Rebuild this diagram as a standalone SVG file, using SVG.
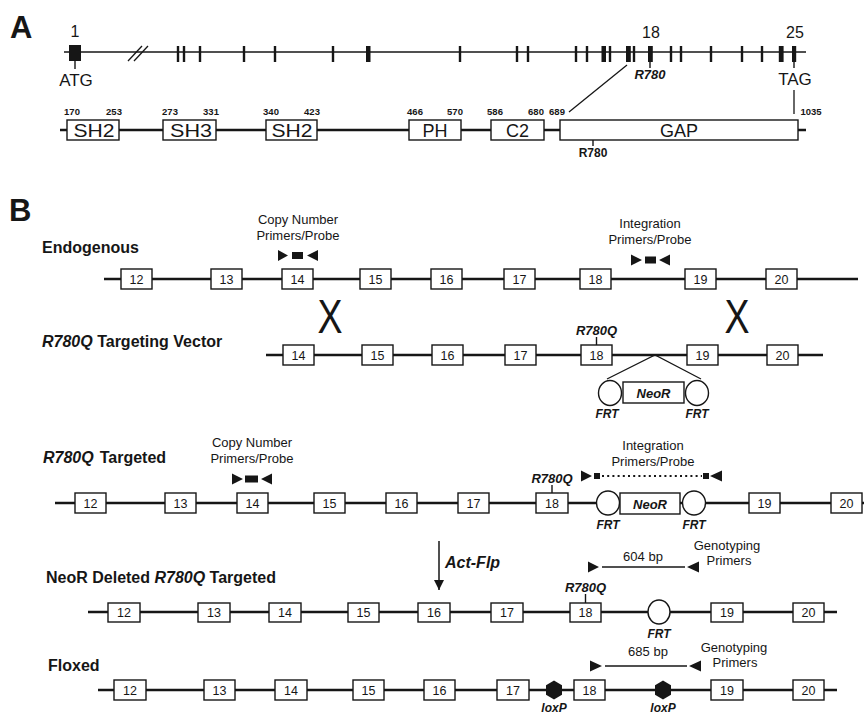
<svg xmlns="http://www.w3.org/2000/svg" xmlns:xlink="http://www.w3.org/1999/xlink" width="864" height="714" viewBox="0 0 864 714">
<style>
text{font-family:"Liberation Sans",Arial,sans-serif;fill:#161616}
.pl{font-size:31px;font-weight:bold}
.ex{fill:#fff;stroke:#161616;stroke-width:1.4}
.en{font-size:12.5px;text-anchor:middle}
.ln{stroke:#161616;stroke-width:2.6;fill:none}
.thin{stroke:#161616;stroke-width:1.3;fill:none}
.tk{stroke:#161616;stroke-width:1.4}
.row{font-size:16px;font-weight:bold}
.it{font-style:italic;font-weight:bold}
.sm{font-size:13px;text-anchor:middle}
.lab{font-size:13px;font-weight:bold;font-style:italic;text-anchor:middle}
.frt{font-size:12px;font-weight:bold;font-style:italic;text-anchor:middle}
.num{font-size:9.5px;font-weight:bold;text-anchor:middle}
.dom{font-size:18px;text-anchor:middle}
.bar{fill:#161616}
.circ{fill:#fff;stroke:#161616;stroke-width:1.4}
.fill{fill:#161616}
</style>
<defs>
<polygon id="hex" points="0,-9.5 8,-4.75 8,4.75 0,9.5 -8,4.75 -8,-4.75" fill="#161616"/>
<marker id="ah" viewBox="0 0 10 10" refX="10" refY="5" markerWidth="10" markerHeight="10" markerUnits="userSpaceOnUse" orient="auto"><path d="M0,0 L10,5 L0,10 z" fill="#161616"/></marker>
</defs>

<!-- Panel A -->
<text id="labelA" class="pl" x="10" y="38">A</text>
<g id="gene">
<line class="thin" x1="64" y1="52" x2="806" y2="52"/>
<line class="thin" x1="128" y1="61" x2="142" y2="46"/>
<line class="thin" x1="134" y1="61" x2="148" y2="46"/>
<rect class="bar" x="69" y="45" width="12" height="16"/>
<g class="bar">
<rect x="176.8" y="46" width="2.4" height="16"/>
<rect x="182.8" y="46" width="2.4" height="16"/>
<rect x="198.8" y="46" width="2.4" height="16"/>
<rect x="242.8" y="46" width="2.4" height="16"/>
<rect x="273.8" y="46" width="2.4" height="16"/>
<rect x="331.8" y="46" width="2.4" height="16"/>
<rect x="366" y="46" width="4.5" height="16"/>
<rect x="458.8" y="46" width="2.4" height="16"/>
<rect x="515.8" y="46" width="2.4" height="16"/>
<rect x="526.8" y="46" width="2.4" height="16"/>
<rect x="574.8" y="46" width="2.4" height="16"/>
<rect x="585.8" y="46" width="2.4" height="16"/>
<rect x="601.5" y="46" width="4.5" height="16"/>
<rect x="608.8" y="46" width="2.4" height="16"/>
<rect x="626" y="46" width="4.8" height="16"/>
<rect x="632.8" y="46" width="2.4" height="16"/>
<rect x="648" y="46" width="4.8" height="16"/>
<rect x="669.8" y="46" width="2.4" height="16"/>
<rect x="679.8" y="46" width="2.4" height="16"/>
<rect x="709.8" y="46" width="2.4" height="16"/>
<rect x="740.8" y="46" width="2.4" height="16"/>
<rect x="760.8" y="46" width="2.4" height="16"/>
<rect x="778.8" y="46" width="4.8" height="16"/>
<rect x="792" y="46" width="4.2" height="16"/>
</g>
<line class="tk" x1="75" y1="61" x2="75" y2="69"/>
<line class="tk" x1="650" y1="62" x2="650" y2="68"/>
<line class="tk" x1="794" y1="62" x2="794" y2="68"/>
<text x="75" y="37" font-size="16" text-anchor="middle">1</text>
<text x="651" y="38" font-size="16" text-anchor="middle">18</text>
<text x="795" y="38" font-size="16" text-anchor="middle">25</text>
<text x="76" y="86" font-size="17" text-anchor="middle">ATG</text>
<text x="795" y="85" font-size="17" text-anchor="middle">TAG</text>
<text class="lab" x="650" y="79">R780</text>
</g>
<g id="connectorsA">
<line class="thin" x1="627" y1="65" x2="569" y2="112"/>
<line class="thin" x1="794" y1="90" x2="794" y2="114"/>
</g>
<g id="protein">
<line class="ln" x1="60" y1="130" x2="806" y2="130"/>
<g id="dom-SH2a"><rect class="ex" x="67" y="120" width="52" height="20"/><text class="dom" x="94" y="136.5" textLength="41" lengthAdjust="spacingAndGlyphs">SH2</text></g>
<g id="dom-SH3"><rect class="ex" x="163" y="120" width="53" height="20"/><text class="dom" x="191" y="136.5" textLength="42" lengthAdjust="spacingAndGlyphs">SH3</text></g>
<g id="dom-SH2b"><rect class="ex" x="266" y="120" width="51" height="20"/><text class="dom" x="292" y="136.5" textLength="41" lengthAdjust="spacingAndGlyphs">SH2</text></g>
<g id="dom-PH"><rect class="ex" x="409" y="120" width="52" height="20"/><text class="dom" x="435" y="136.5">PH</text></g>
<g id="dom-C2"><rect class="ex" x="491" y="120" width="53" height="20"/><text class="dom" x="517.5" y="136.5">C2</text></g>
<g id="dom-GAP"><rect class="ex" x="560" y="120" width="238" height="20"/><text class="dom" x="679" y="136.5">GAP</text></g>
<text class="num" x="72" y="115">170</text>
<text class="num" x="114" y="115">253</text>
<text class="num" x="170" y="115">273</text>
<text class="num" x="211" y="115">331</text>
<text class="num" x="271" y="115">340</text>
<text class="num" x="312" y="115">423</text>
<text class="num" x="415" y="115">466</text>
<text class="num" x="455" y="115">570</text>
<text class="num" x="495" y="115">586</text>
<text class="num" x="536" y="115">680</text>
<text class="num" x="557" y="115">689</text>
<text class="num" x="811" y="115">1035</text>
<line class="tk" x1="593" y1="140" x2="593" y2="146"/>
<text x="593" y="157" font-size="12" font-weight="bold" text-anchor="middle">R780</text>
</g>

<!-- Panel B -->
<text id="labelB" class="pl" x="9" y="221">B</text>

<!-- Row 1: Endogenous -->
<g id="row-endogenous">
<text class="row" x="42" y="253">Endogenous</text>
<line class="ln" x1="104" y1="279" x2="858" y2="279"/>
<g id="e1-12"><rect class="ex" x="121" y="269" width="31" height="20"/><text class="en" x="136.5" y="283.5">12</text></g>
<g id="e1-13"><rect class="ex" x="211" y="269" width="31" height="20"/><text class="en" x="226.5" y="283.5">13</text></g>
<g id="e1-14"><rect class="ex" x="282" y="269" width="31" height="20"/><text class="en" x="297.5" y="283.5">14</text></g>
<g id="e1-15"><rect class="ex" x="360" y="269" width="31" height="20"/><text class="en" x="375.5" y="283.5">15</text></g>
<g id="e1-16"><rect class="ex" x="431" y="269" width="31" height="20"/><text class="en" x="446.5" y="283.5">16</text></g>
<g id="e1-17"><rect class="ex" x="504" y="269" width="31" height="20"/><text class="en" x="519.5" y="283.5">17</text></g>
<g id="e1-18"><rect class="ex" x="580" y="269" width="31" height="20"/><text class="en" x="595.5" y="283.5">18</text></g>
<g id="e1-19"><rect class="ex" x="685" y="269" width="31" height="20"/><text class="en" x="700.5" y="283.5">19</text></g>
<g id="e1-20"><rect class="ex" x="766" y="269" width="31" height="20"/><text class="en" x="781.5" y="283.5">20</text></g>
<g id="cn-primers1">
<text class="sm" x="298" y="224">Copy Number</text>
<text class="sm" x="298" y="240">Primers/Probe</text>
<path class="fill" d="M278,250 L288,255.5 L278,261 z M292,252 h11 v7 h-11 z M318,250 L307,255.5 L318,261 z"/>
</g>
<g id="int-primers1">
<text class="sm" x="650" y="228">Integration</text>
<text class="sm" x="650" y="244">Primers/Probe</text>
<path class="fill" d="M631,254.5 L642,260 L631,265.5 z M645,256.5 h11 v7 h-11 z M670,254.5 L659,260 L670,265.5 z"/>
</g>
</g>

<g id="crossovers">
<text x="330" y="333" font-size="48" text-anchor="middle" textLength="25" lengthAdjust="spacingAndGlyphs">X</text>
<text x="737" y="333" font-size="48" text-anchor="middle" textLength="25" lengthAdjust="spacingAndGlyphs">X</text>
</g>

<!-- Row 2: Targeting vector -->
<g id="row-vector">
<text class="row" x="42" y="347"><tspan font-style="italic">R780Q</tspan> Targeting Vector</text>
<line class="ln" x1="266" y1="355" x2="823" y2="355"/>
<g id="v-14"><rect class="ex" x="283" y="345" width="31" height="20"/><text class="en" x="298.5" y="359.5">14</text></g>
<g id="v-15"><rect class="ex" x="362" y="345" width="31" height="20"/><text class="en" x="377.5" y="359.5">15</text></g>
<g id="v-16"><rect class="ex" x="432" y="345" width="31" height="20"/><text class="en" x="447.5" y="359.5">16</text></g>
<g id="v-17"><rect class="ex" x="505" y="345" width="31" height="20"/><text class="en" x="520.5" y="359.5">17</text></g>
<g id="v-18"><rect class="ex" x="581" y="345" width="31" height="20"/><text class="en" x="596.5" y="359.5">18</text></g>
<g id="v-19"><rect class="ex" x="687" y="345" width="31" height="20"/><text class="en" x="702.5" y="359.5">19</text></g>
<g id="v-20"><rect class="ex" x="767" y="345" width="31" height="20"/><text class="en" x="782.5" y="359.5">20</text></g>
<g id="v-mut"><line class="tk" x1="596.5" y1="337" x2="596.5" y2="345"/><text class="lab" x="596.5" y="335">R780Q</text></g>
<g id="v-insert-lines">
<polyline class="thin" points="607,379 655,355 701,379"/>
</g>
<g id="v-cassette">
<ellipse class="circ" cx="610" cy="393" rx="11.5" ry="12.5"/>
<rect class="ex" x="623" y="382" width="61" height="21"/>
<text class="lab" x="653.5" y="397.5">NeoR</text>
<ellipse class="circ" cx="697" cy="393" rx="11.5" ry="12.5"/>
<text class="frt" x="607" y="418">FRT</text>
<text class="frt" x="697" y="418">FRT</text>
</g>
</g>

<!-- Row 3: Targeted -->
<g id="row-targeted">
<text class="row" x="43" y="463"><tspan font-style="italic">R780Q</tspan><tspan dx="6">Targeted</tspan></text>
<line class="ln" x1="55" y1="503" x2="864" y2="503"/>
<g id="t-12"><rect class="ex" x="75" y="493" width="31" height="20"/><text class="en" x="90.5" y="507.5">12</text></g>
<g id="t-13"><rect class="ex" x="165" y="493" width="31" height="20"/><text class="en" x="180.5" y="507.5">13</text></g>
<g id="t-14"><rect class="ex" x="237" y="493" width="31" height="20"/><text class="en" x="252.5" y="507.5">14</text></g>
<g id="t-15"><rect class="ex" x="314" y="493" width="31" height="20"/><text class="en" x="329.5" y="507.5">15</text></g>
<g id="t-16"><rect class="ex" x="386" y="493" width="31" height="20"/><text class="en" x="401.5" y="507.5">16</text></g>
<g id="t-17"><rect class="ex" x="458" y="493" width="31" height="20"/><text class="en" x="473.5" y="507.5">17</text></g>
<g id="t-18"><rect class="ex" x="536" y="493" width="32" height="20"/><text class="en" x="552" y="507.5">18</text></g>
<g id="t-19"><rect class="ex" x="749" y="493" width="31" height="20"/><text class="en" x="764.5" y="507.5">19</text></g>
<g id="t-20"><rect class="ex" x="831" y="493" width="31" height="20"/><text class="en" x="846.5" y="507.5">20</text></g>
<g id="t-mut"><line class="tk" x1="552" y1="485" x2="552" y2="493"/><text class="lab" x="552" y="483">R780Q</text></g>
<g id="t-cassette">
<ellipse class="circ" cx="608" cy="503" rx="11.5" ry="12"/>
<rect class="ex" x="620" y="493" width="60" height="21"/>
<text class="lab" x="650" y="508.5">NeoR</text>
<ellipse class="circ" cx="694" cy="503" rx="11.5" ry="12"/>
<text class="frt" x="608" y="529">FRT</text>
<text class="frt" x="694" y="529">FRT</text>
</g>
<g id="cn-primers2">
<text class="sm" x="252" y="447">Copy Number</text>
<text class="sm" x="252" y="463">Primers/Probe</text>
<path class="fill" d="M232,473.5 L243,479 L232,484.5 z M245,475.5 h13 v7 h-13 z M272,473.5 L261,479 L272,484.5 z"/>
</g>
<g id="int-primers2">
<text class="sm" x="653" y="450">Integration</text>
<text class="sm" x="653" y="466">Primers/Probe</text>
<path class="fill" d="M581,470.5 L592,476 L581,481.5 z M594,473 h6 v6 h-6 z M703,473 h6 v6 h-6 z M722,470.5 L710,476 L722,481.5 z"/>
<line x1="602" y1="476" x2="702" y2="476" stroke="#161616" stroke-width="2" stroke-dasharray="2,3.2"/>
</g>
</g>

<!-- Act-Flp -->
<g id="act-flp">
<line x1="439" y1="541" x2="439" y2="590" stroke="#161616" stroke-width="1.5" marker-end="url(#ah)"/>
<text class="it" x="445" y="568" font-size="16">Act-Flp</text>
</g>

<!-- Row 4: NeoR deleted -->
<g id="row-neodel">
<text class="row" x="46" y="583">NeoR Deleted <tspan font-style="italic">R780Q</tspan> Targeted</text>
<line class="ln" x1="88" y1="612" x2="837" y2="612"/>
<g id="d-12"><rect class="ex" x="108" y="603" width="32" height="19"/><text class="en" x="124" y="617">12</text></g>
<g id="d-13"><rect class="ex" x="198" y="603" width="32" height="19"/><text class="en" x="214" y="617">13</text></g>
<g id="d-14"><rect class="ex" x="269" y="603" width="32" height="19"/><text class="en" x="285" y="617">14</text></g>
<g id="d-15"><rect class="ex" x="348" y="603" width="31" height="19"/><text class="en" x="363.5" y="617">15</text></g>
<g id="d-16"><rect class="ex" x="418" y="603" width="32" height="19"/><text class="en" x="434" y="617">16</text></g>
<g id="d-17"><rect class="ex" x="491" y="603" width="32" height="19"/><text class="en" x="507" y="617">17</text></g>
<g id="d-18"><rect class="ex" x="570" y="603" width="31" height="19"/><text class="en" x="585.5" y="617">18</text></g>
<g id="d-19"><rect class="ex" x="711" y="603" width="32" height="19"/><text class="en" x="727" y="617">19</text></g>
<g id="d-20"><rect class="ex" x="793" y="603" width="31" height="19"/><text class="en" x="808.5" y="617">20</text></g>
<g id="d-mut"><line class="tk" x1="585.5" y1="594" x2="585.5" y2="603"/><text class="lab" x="585.5" y="592">R780Q</text></g>
<g id="d-frt"><ellipse class="circ" cx="659" cy="612" rx="11" ry="12"/><text class="frt" x="659" y="638">FRT</text></g>
<g id="geno1">
<path class="fill" d="M588,561.5 L599,567 L588,572.5 z M699,561.5 L687,567 L699,572.5 z"/>
<line x1="602" y1="567" x2="685" y2="567" stroke="#161616" stroke-width="1.5"/>
<text class="sm" x="643" y="561">604 bp</text>
<text class="sm" x="727" y="550">Genotyping</text>
<text class="sm" x="729" y="565">Primers</text>
</g>
</g>

<!-- Row 5: Floxed -->
<g id="row-floxed">
<text class="row" x="48" y="671">Floxed</text>
<line class="ln" x1="98" y1="690" x2="837" y2="690"/>
<g id="f-12"><rect class="ex" x="114" y="680" width="32" height="20"/><text class="en" x="130" y="694.5">12</text></g>
<g id="f-13"><rect class="ex" x="204" y="680" width="31" height="20"/><text class="en" x="219.5" y="694.5">13</text></g>
<g id="f-14"><rect class="ex" x="275" y="680" width="32" height="20"/><text class="en" x="291" y="694.5">14</text></g>
<g id="f-15"><rect class="ex" x="353" y="680" width="31" height="20"/><text class="en" x="368.5" y="694.5">15</text></g>
<g id="f-16"><rect class="ex" x="424" y="680" width="31" height="20"/><text class="en" x="439.5" y="694.5">16</text></g>
<g id="f-17"><rect class="ex" x="497" y="680" width="32" height="20"/><text class="en" x="513" y="694.5">17</text></g>
<g id="f-18"><rect class="ex" x="574" y="680" width="31" height="20"/><text class="en" x="589.5" y="694.5">18</text></g>
<g id="f-19"><rect class="ex" x="711" y="680" width="32" height="20"/><text class="en" x="727" y="694.5">19</text></g>
<g id="f-20"><rect class="ex" x="793" y="680" width="31" height="20"/><text class="en" x="808.5" y="694.5">20</text></g>
<g id="loxp1"><use xlink:href="#hex" href="#hex" x="554" y="690"/><text class="frt" x="554" y="712">loxP</text></g>
<g id="loxp2"><use xlink:href="#hex" href="#hex" x="663" y="690"/><text class="frt" x="663" y="712">loxP</text></g>
<g id="geno2">
<path class="fill" d="M590,660.5 L602,666 L590,671.5 z M701,660.5 L689,666 L701,671.5 z"/>
<line x1="605" y1="666" x2="687" y2="666" stroke="#161616" stroke-width="1.5"/>
<text class="sm" x="648" y="656">685 bp</text>
<text class="sm" x="734" y="652">Genotyping</text>
<text class="sm" x="735" y="667">Primers</text>
</g>
</g>
</svg>
